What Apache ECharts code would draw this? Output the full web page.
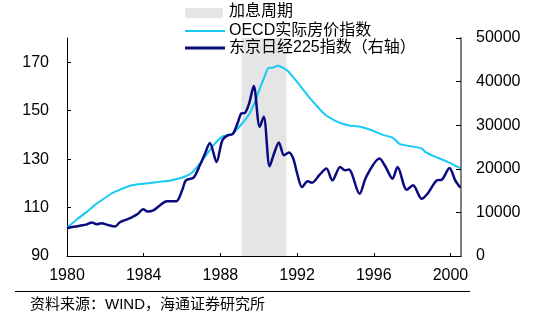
<!DOCTYPE html>
<html>
<head>
<meta charset="utf-8">
<script src="https://cdn.jsdelivr.net/npm/echarts@6/dist/echarts.min.js"></script>
<style>html,body{margin:0;padding:0;background:#fff}#c{width:559px;height:321px}</style>
</head>
<body>
<div id="c"></div>
<script>
// ---- data ----
const oecdYears = [1980.0,1980.5,1981.0,1981.4,1981.8,1982.3,1982.8,1983.3,1983.8,1984.3,1984.8,1985.4,1986.06,1986.5,1986.9,1987.25,1987.6,1988.1,1988.6,1989.1,1989.5,1989.8,1990.05,1990.3,1990.5,1990.75,1991.0,1991.25,1991.5,1991.96,1992.57,1993.1,1993.5,1994.0,1994.3,1994.7,1995.3,1995.87,1996.4,1997.0,1997.34,1997.86,1998.5,1998.7,1999.2,1999.8,2000.5];
const oecdValues = [101.7,105,108,110.7,113,115.7,117.5,119,119.7,120.1,120.6,121.2,122.5,124.3,127.8,131.5,135.4,139.3,140.2,144.4,148.5,153.5,159,164,167.6,167.8,168.5,167.8,166.5,162.3,156.1,151.3,148.1,145.8,144.8,143.9,143.4,142,140.2,138.8,136.3,135.4,134.4,132.9,131,129.1,126.3];
const nikkeiYears = [1980.0,1980.35,1980.7,1981.0,1981.3,1981.55,1981.8,1982.15,1982.5,1982.76,1983.1,1983.4,1983.7,1983.97,1984.2,1984.5,1984.84,1985.2,1985.7,1986.0,1986.2,1986.6,1986.93,1987.2,1987.45,1987.8,1988.1,1988.4,1988.65,1988.9,1989.1,1989.27,1989.5,1989.74,1990.05,1990.26,1990.57,1990.8,1991.05,1991.32,1991.58,1991.8,1992.0,1992.26,1992.55,1992.78,1993.18,1993.53,1993.84,1994.25,1994.5,1994.7,1995.26,1995.6,1996.3,1996.6,1996.98,1997.24,1997.72,1998.05,1998.5,1998.8,1999.3,1999.55,1999.95,2000.25,2000.52];
const nikkeiValues = [6360,6700,6980,7200,7670,7280,7510,7100,6750,7740,8360,8900,9670,10740,10200,10440,11590,12580,12580,15000,17350,17970,20810,23500,25940,21570,26500,27720,28000,30500,32720,32800,35020,39010,29630,31940,20580,23500,26040,23110,23730,22350,19000,15810,17120,16820,18660,20050,17350,20410,19650,19820,14290,18110,22350,20580,17740,20410,15210,16200,13130,14290,17350,17510,20190,17350,15670];
const hikePeriod = [1989.1, 1991.45];
const xTicks = [1980,1984,1988,1992,1996,2000];
const leftTicks = [90,110,130,150,170];
const names = ['加息周期','OECD实际房价指数','东京日经225指数（右轴）'];
const source = '资料来源：WIND，海通证券研究所';

const FONT = '"Liberation Sans","Noto Sans CJK SC",sans-serif';
const plain = v => String(v);
const chart = echarts.init(document.getElementById('c'));
const zip = (a,b) => a.map((x,i)=>[x,b[i]]);
const Z = {z:100, zlevel:1};
chart.setOption({
  animation:false,
  textStyle:{fontFamily:FONT},
  grid:{left:67,right:98,top:38,bottom:65,containLabel:false},
  xAxis:{type:'value',min:1980,max:2000.55,
    axisLine:{lineStyle:{color:'#000',width:1}},
    axisTick:{inside:true,length:3,customValues:xTicks,lineStyle:{color:'#000'}},
    axisLabel:{customValues:xTicks,formatter:plain,fontSize:16,color:'#000',margin:12,fontFamily:FONT},
    splitLine:{show:false}},
  yAxis:[
    {type:'value',min:90,max:180,position:'left',
     axisLine:{show:true,lineStyle:{color:'#000',width:1}},
     axisTick:{show:true,inside:true,length:4,customValues:leftTicks,lineStyle:{color:'#000'}},
     axisLabel:{customValues:leftTicks,formatter:plain,fontSize:16,color:'#000',margin:18,fontFamily:FONT},
     splitLine:{show:false}},
    {type:'value',min:0,max:50000,interval:10000,position:'right',
     axisLine:{show:true,lineStyle:{color:'#808080',width:2}},
     axisTick:{show:true,inside:true,length:5,lineStyle:{color:'#000'}},
     axisLabel:{formatter:plain,fontSize:16,color:'#000',margin:15,fontFamily:FONT},
     splitLine:{show:false}}
  ],
  series:[
    {name:names[1],type:'line',yAxisIndex:0,data:zip(oecdYears,oecdValues),showSymbol:false,smooth:0.2,
     lineStyle:{color:'#17C9F5',width:2},z:3,
     markArea:{silent:true,itemStyle:{color:'#E5E5E5'},data:[[{xAxis:hikePeriod[0]},{xAxis:hikePeriod[1]}]]}},
    {name:names[2],type:'line',yAxisIndex:1,data:zip(nikkeiYears,nikkeiValues),showSymbol:false,smooth:0.3,
     lineStyle:{color:'#0B0B80',width:2.5},z:4}
  ],
  graphic:[
    Object.assign({type:'rect',shape:{x:185,y:8,width:38,height:10},style:{fill:'#E5E5E5'}},Z),
    Object.assign({type:'line',shape:{x1:185,y1:31,x2:225,y2:31},style:{stroke:'#17C9F5',lineWidth:2}},Z),
    Object.assign({type:'line',shape:{x1:185,y1:48,x2:225,y2:48},style:{stroke:'#0B0B80',lineWidth:3}},Z),
    Object.assign({type:'text',x:229,y:12,style:{text:names[0],font:'16px '+FONT,fill:'#000',verticalAlign:'middle'}},Z),
    Object.assign({type:'text',x:229,y:31,style:{text:names[1],font:'16px '+FONT,fill:'#000',verticalAlign:'middle'}},Z),
    Object.assign({type:'text',x:229,y:48,style:{text:names[2],font:'16px '+FONT,fill:'#000',verticalAlign:'middle'}},Z),
    Object.assign({type:'line',shape:{x1:15,y1:291.5,x2:470,y2:291.5},style:{stroke:'#000',lineWidth:1}},Z),
    Object.assign({type:'text',x:30,y:305,style:{text:source,font:'15px '+FONT,fill:'#000',verticalAlign:'middle'}},Z)
  ]
});
</script>
</body>
</html>
